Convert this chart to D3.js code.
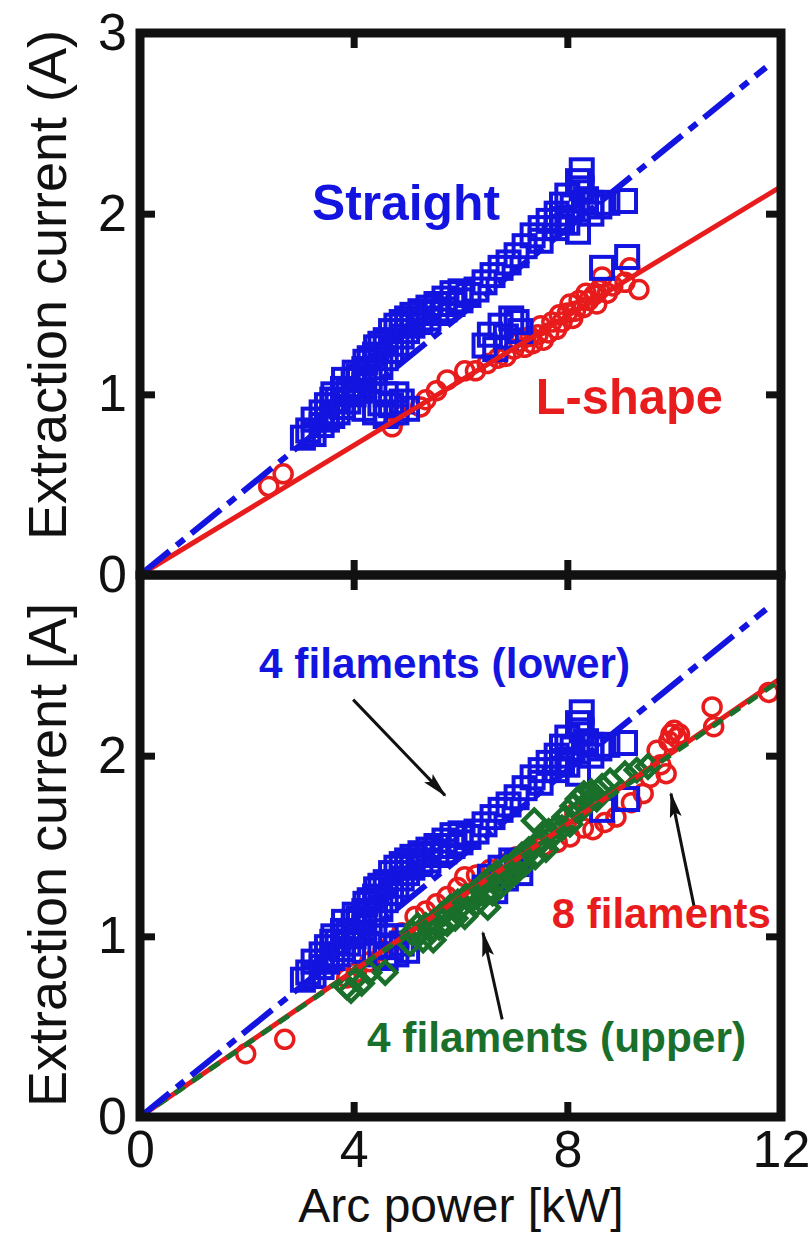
<html>
<script src='https://d3js.org/d3.v7.min.js'></script>
<style>
 body {margin:0; background:#fff;}
 text {font-family: 'Liberation Sans', Arial, sans-serif;}
</style>
<body onload='init()'>
<svg width=812 height=1235></svg>
<script>
// tick values
const xTicks = [0, 4, 8, 12];
const yTicksTop = [0, 1, 2, 3];
const yTicksBottom = [0, 1, 2];

// Straight filament == 4 filaments (lower) : [arc power kW, current A]
const straightPts = [
  [3.05,0.76],[3.15,0.80],[3.25,0.78],[3.25,0.86],[3.40,0.83],[3.40,0.90],[3.50,0.86],[3.50,0.94],
  [3.60,0.88],[3.60,0.97],[3.62,1.00],[3.70,0.90],[3.70,0.97],[3.80,0.93],[3.80,1.03],[3.82,1.08],
  [3.90,0.96],[3.90,1.02],[4.00,1.00],[4.00,1.08],[4.02,1.12],[4.10,1.02],[4.10,1.10],[4.20,1.05],
  [4.20,1.14],[4.22,1.18],[4.30,1.08],[4.30,1.20],[4.40,1.12],[4.40,1.22],[4.42,1.26],[4.50,1.15],
  [4.50,1.28],[4.60,1.20],[4.60,1.30],[4.70,1.24],[4.70,1.35],[4.80,1.28],[4.80,1.38],[4.90,1.32],
  [4.90,1.40],[5.00,1.35],[5.00,1.42],[5.10,1.38],[5.10,1.44],[5.25,1.40],[5.25,1.46],[5.40,1.42],
  [5.40,1.48],[5.55,1.45],[5.55,1.50],[5.70,1.47],[5.70,1.53],[5.85,1.50],[5.85,1.56],[6.00,1.52],
  [6.00,1.57],[6.15,1.55],[6.30,1.58],[6.45,1.62],[6.60,1.66],[6.75,1.70],[6.90,1.73],[7.05,1.77],
  [7.20,1.82],[7.35,1.88],[7.50,1.92],[7.50,1.85],[7.65,1.96],[7.80,2.00],[7.80,1.92],[7.90,2.05],
  [7.90,1.97],[8.00,2.10],[8.00,1.95],[8.10,2.04],[8.20,2.18],[8.20,1.90],[8.27,2.24],[8.27,2.14],
  [8.35,2.08],[8.45,2.06],[8.45,2.00],[8.60,2.04],[8.75,2.06],[9.08,2.07],
  [4.20,0.92],[4.40,0.90],[4.50,0.95],[4.60,0.88],[4.60,1.00],[4.70,0.94],[4.80,0.90],[4.80,1.00],
  [4.90,0.96],[5.00,0.92],
  [6.45,1.27],[6.55,1.33],[6.65,1.25],[6.75,1.38],[6.85,1.32],[6.95,1.42],[7.05,1.40],[7.12,1.35],
  [8.65,1.70],[9.12,1.76]
];

// L-shape filament
const lshapePts = [
  [2.41,0.49],[2.68,0.56],[4.72,0.82],[4.85,0.88],[5.25,0.93],[5.35,0.97],[5.55,1.02],[5.75,1.08],
  [6.08,1.13],[6.28,1.13],[6.50,1.17],[6.70,1.20],[6.85,1.21],[7.00,1.25],[7.10,1.29],[7.20,1.26],
  [7.30,1.32],[7.35,1.28],[7.45,1.33],[7.50,1.38],[7.55,1.30],[7.65,1.34],[7.71,1.40],[7.80,1.36],
  [7.85,1.44],[7.90,1.40],[8.00,1.45],[8.05,1.50],[8.10,1.42],[8.15,1.46],[8.22,1.52],[8.30,1.48],
  [8.35,1.56],[8.40,1.52],[8.50,1.55],[8.55,1.50],[8.60,1.58],[8.65,1.65],[8.75,1.56],[8.85,1.60],
  [9.08,1.62],[9.17,1.70],[9.34,1.58]
];

// 8 filaments
const eightPts = [
  [1.98,0.35],[2.71,0.43],[3.87,0.77],[4.05,0.80],[4.30,0.86],[4.55,0.92],[4.72,0.96],[4.90,1.02],
  [5.15,1.11],[5.35,1.14],[5.55,1.18],[5.75,1.22],[5.95,1.27],[6.08,1.33],[6.30,1.34],[6.55,1.37],
  [6.80,1.40],[7.05,1.44],[7.30,1.48],[7.55,1.50],[7.81,1.52],[8.05,1.55],[8.14,1.68],[8.30,1.60],
  [8.48,1.59],[8.70,1.63],[8.91,1.66],[9.20,1.74],[9.42,1.79],[9.55,1.88],[9.68,2.03],[9.75,1.95],
  [9.85,1.90],[9.90,2.08],[9.94,2.12],[10.00,2.14],[10.05,2.10],[10.10,2.12],[10.71,2.27],
  [10.74,2.16],[11.77,2.35]
];

// 4 filaments (upper)
const upperPts = [
  [3.87,0.72],[3.95,0.70],[4.04,0.77],[4.15,0.74],[4.29,0.80],[4.59,0.80],[5.05,0.96],[5.10,1.02],
  [5.24,1.02],[5.30,0.98],[5.35,1.06],[5.49,0.98],[5.50,1.08],[5.60,1.05],[5.65,1.12],[5.75,1.07],
  [5.80,1.16],[5.90,1.10],[5.95,1.19],[6.08,1.11],[6.10,1.22],[6.25,1.24],[6.30,1.18],[6.40,1.28],
  [6.51,1.16],[6.55,1.32],[6.60,1.24],[6.68,1.35],[6.75,1.28],[6.85,1.38],[6.90,1.32],[7.04,1.42],
  [7.05,1.36],[7.15,1.45],[7.20,1.40],[7.28,1.48],[7.38,1.64],[7.40,1.44],[7.45,1.52],[7.54,1.53],
  [7.60,1.48],[7.65,1.58],[7.81,1.61],[7.95,1.66],[8.05,1.62],[8.10,1.72],[8.20,1.76],[8.25,1.70],
  [8.31,1.79],[8.45,1.80],[8.55,1.76],[8.65,1.83],[8.80,1.86],[9.08,1.90],[9.30,1.92],[9.51,1.94],
  [5.20,1.06],[5.45,1.03],[5.70,1.13],[6.00,1.16],[6.20,1.20],[6.45,1.23],[6.70,1.31],[6.95,1.36],
  [7.20,1.44],[7.70,1.55],[7.90,1.60],[8.40,1.75]
];

// fitted lines, end points
const straightFit = [[0,0],[11.72,2.81]];
const lshapeFit = [[0,0],[12,2.15]];
const eightFit = [[0,0],[12,2.43]];
const upperFit = [[0,0],[11.9,2.40]];

const BLUE = "#1414e0", RED = "#e81c1c", GREEN = "#1a702a", INK = "#111";

function init() {
  const svg = d3.select("svg");

  const x = d3.scaleLinear().domain([0, 12]).range([140, 781]);
  const yTop = d3.scaleLinear().domain([0, 3]).range([575, 33]);
  const yBot = d3.scaleLinear().domain([0, 3]).range([1117, 575]);

  const line = (y) => d3.line().x(d => x(d[0])).y(d => y(d[1]));

  svg.append("defs").append("marker")
      .attr("id", "head")
      .attr("markerUnits", "userSpaceOnUse")
      .attr("viewBox", "0 -7 26 14")
      .attr("refX", 24).attr("refY", 0)
      .attr("markerWidth", 26).attr("markerHeight", 14)
      .attr("orient", "auto")
    .append("path")
      .attr("d", "M0,-6L26,0L0,6L5,0Z")
      .attr("fill", INK);

  // --- markers ---
  function circles(g, data, y) {
    g.append("g").selectAll("circle").data(data).enter().append("circle")
      .attr("cx", d => x(d[0])).attr("cy", d => y(d[1])).attr("r", 9)
      .attr("fill", "none").attr("stroke", RED).attr("stroke-width", 3.5);
  }
  function squares(g, data, y) {
    g.append("g").selectAll("rect").data(data).enter().append("rect")
      .attr("x", d => x(d[0]) - 11).attr("y", d => y(d[1]) - 11)
      .attr("width", 22).attr("height", 22)
      .attr("fill", "none").attr("stroke", BLUE).attr("stroke-width", 4);
  }
  function diamonds(g, data, y) {
    g.append("g").selectAll("path").data(data).enter().append("path")
      .attr("d", "M0,-11L11,0L0,11L-11,0Z")
      .attr("transform", d => `translate(${x(d[0])},${y(d[1])})`)
      .attr("fill", "none").attr("stroke", GREEN).attr("stroke-width", 4.5);
  }

  const top = svg.append("g");
  circles(top, lshapePts, yTop);
  squares(top, straightPts, yTop);
  top.append("path").datum(lshapeFit).attr("d", line(yTop))
    .attr("stroke", RED).attr("stroke-width", 5).attr("fill", "none");
  top.append("path").datum(straightFit).attr("d", line(yTop))
    .attr("stroke", BLUE).attr("stroke-width", 6).attr("fill", "none")
    .attr("stroke-dasharray", "38,9,10,9");

  const bot = svg.append("g");
  circles(bot, eightPts, yBot);
  squares(bot, straightPts, yBot);
  diamonds(bot, upperPts, yBot);
  bot.append("path").datum(eightFit).attr("d", line(yBot))
    .attr("stroke", RED).attr("stroke-width", 5).attr("fill", "none");
  bot.append("path").datum(upperFit).attr("d", line(yBot))
    .attr("stroke", GREEN).attr("stroke-width", 5).attr("fill", "none")
    .attr("stroke-dasharray", "12,9");
  bot.append("path").datum(straightFit).attr("d", line(yBot))
    .attr("stroke", BLUE).attr("stroke-width", 6).attr("fill", "none")
    .attr("stroke-dasharray", "38,9,10,9");

  // --- annotations ---
  const notes = [
    {y: yTop, text: "Straight", at: [3.22, 1.965], size: 50, len: 188, color: BLUE},
    {y: yTop, text: "L-shape", at: [7.41, 0.891], size: 50, len: 187, color: RED},
    {y: yBot, text: "4 filaments (lower)", at: [2.23, 2.43], size: 42, len: 371, color: BLUE},
    {y: yBot, text: "8 filaments", at: [7.71, 1.046], size: 42, len: 219, color: RED},
    {y: yBot, text: "4 filaments (upper)", at: [4.25, 0.36], size: 42, len: 379, color: GREEN}
  ];
  svg.append("g").selectAll("text").data(notes).enter().append("text")
    .attr("x", d => x(d.at[0])).attr("y", d => d.y(d.at[1]))
    .attr("font-size", d => d.size).attr("font-weight", "bold")
    .attr("textLength", d => d.len).attr("lengthAdjust", "spacingAndGlyphs")
    .attr("fill", d => d.color).text(d => d.text);

  const arrows = [
    {from: [3.99, 2.31], to: [5.71, 1.78]},
    {from: [10.37, 1.17], to: [9.94, 1.79]},
    {from: [6.78, 0.54], to: [6.42, 1.02]}
  ];
  svg.append("g").selectAll("line").data(arrows).enter().append("line")
    .attr("x1", d => x(d.from[0])).attr("y1", d => yBot(d.from[1]))
    .attr("x2", d => x(d.to[0])).attr("y2", d => yBot(d.to[1]))
    .attr("stroke", INK).attr("stroke-width", 3).attr("marker-end", "url(#head)");

  // --- frames and axes ---
  [yTop, yBot].forEach(y => {
    svg.append("rect")
      .attr("x", x(0)).attr("y", y(3))
      .attr("width", x(12) - x(0)).attr("height", y(0) - y(3))
      .attr("fill", "none").attr("stroke", INK).attr("stroke-width", 9);
  });

  function axis(gen, transform, ticks, labels) {
    const g = svg.append("g").attr("transform", transform)
      .call(gen.tickValues(ticks).tickSizeInner(-15).tickSizeOuter(0)
        .tickPadding(labels ? 13 : 0).tickFormat(labels ? d3.format("d") : ""));
    g.select(".domain").remove();
    g.selectAll(".tick line").attr("stroke", INK).attr("stroke-width", 7);
    g.selectAll(".tick text").attr("font-size", 52).attr("fill", INK)
      .attr("font-family", "'Liberation Sans', Arial, sans-serif");
    return g;
  }
  const inner = [4, 8];
  // top panel
  axis(d3.axisTop(x), `translate(0,${yTop(3)})`, inner, false);
  axis(d3.axisBottom(x), `translate(0,${yTop(0)})`, inner, false);
  axis(d3.axisLeft(yTop), `translate(${x(0)},0)`, yTicksTop, true);
  axis(d3.axisRight(yTop), `translate(${x(12)},0)`, [1, 2], false);
  // bottom panel
  axis(d3.axisTop(x), `translate(0,${yBot(3)})`, inner, false);
  axis(d3.axisBottom(x), `translate(0,${yBot(0)})`, xTicks, true);
  axis(d3.axisLeft(yBot), `translate(${x(0)},0)`, yTicksBottom, true);
  axis(d3.axisRight(yBot), `translate(${x(12)},0)`, [1, 2], false);

  // no tick lines at the corners
  svg.selectAll(".tick").filter(d => d === 0 || d === 12 || d === 3)
    .select("line").remove();

  // axis titles
  svg.append("text")
    .attr("x", 461).attr("y", 1222).attr("text-anchor", "middle")
    .attr("font-size", 48).attr("fill", INK).text("Arc power [kW]");
  [["Extraction current (A)", 285], ["Extraction current [A]", 855]].forEach(([t, cy]) => {
    svg.append("text")
      .attr("transform", `translate(66,${cy}) rotate(-90)`)
      .attr("text-anchor", "middle")
      .attr("font-size", 54).attr("fill", INK).text(t);
  });
}
</script>
</body>
</html>
